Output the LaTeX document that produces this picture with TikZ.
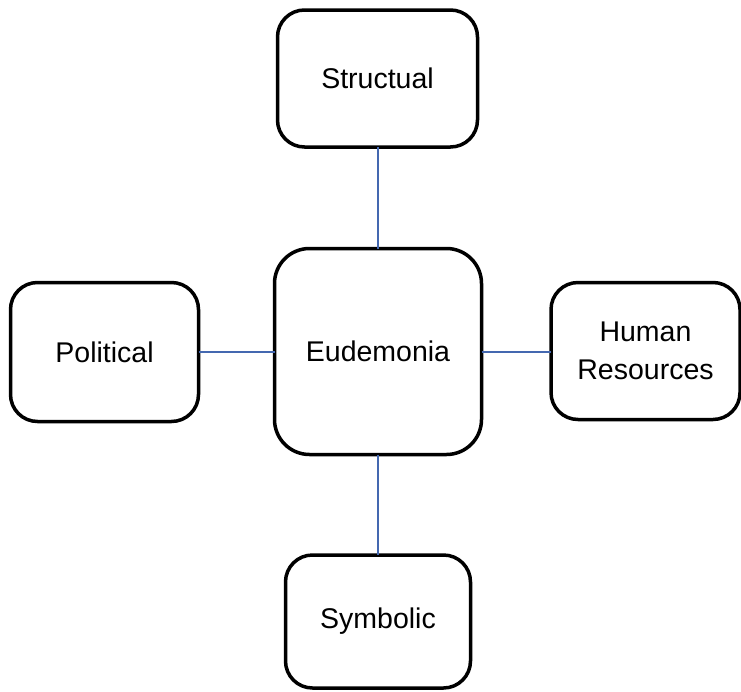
\documentclass[tikz,border=0pt]{standalone}
\usepackage{fontspec}
\setmainfont{Liberation Sans}
\definecolor{linkblue}{HTML}{4468B0}
\begin{document}
\begin{tikzpicture}[x=1pt,y=-1pt,
  box/.style={draw=black, line width=3.5pt, fill=white, rounded corners=27pt, align=center,
    font=\fontsize{28.5}{38}\selectfont, inner sep=0pt, outer sep=0pt},
  link/.style={draw=linkblue, line width=2pt}]
\useasboundingbox (0,0) rectangle (741,691);
\node[box, minimum width=200pt, minimum height=137pt] (S) at (377.5,78.5) {Structual};
\node[box, minimum width=207pt, minimum height=206pt, rounded corners=35pt] (E) at (378,351.5) {Eudemonia};
\node[box, minimum width=188pt, minimum height=139pt] (P) at (104.5,352) {Political};
\node[box, minimum width=189pt, minimum height=137pt] (H) at (645.5,351) {Human\\Resources};
\node[box, minimum width=185pt, minimum height=133pt] (Y) at (378,621.5) {Symbolic};
\draw[link] (S.south -| E.north) -- (E.north);
\draw[link] (E.south) -- (E.south |- Y.north);
\draw[link] (P.east |- E.west) -- (E.west);
\draw[link] (E.east) -- (E.east -| H.west);
\end{tikzpicture}
\end{document}
